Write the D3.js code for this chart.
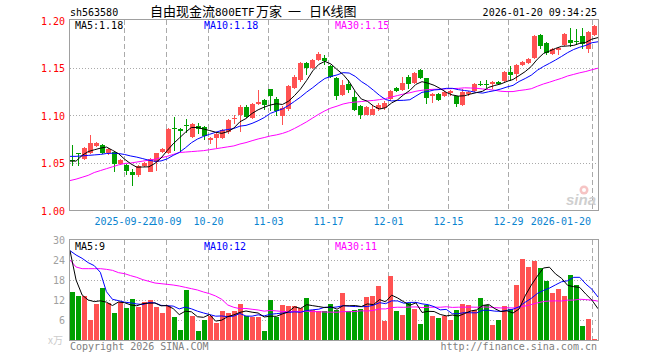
<!DOCTYPE html>
<html>
<head>
<meta charset="utf-8">
<title>自由现金流800ETF万家 日K线图</title>
<script src="https://d3js.org/d3.v7.min.js"></script>
<style>
  body { margin: 0; background: #fff; }
  text { font-family: "DejaVu Sans Mono", monospace; font-size: 10px; }
</style>
</head>
<body>
<div id="chart"></div>
<script>
// daily bars, 2025-09-09 .. 2026-01-20
const opens  = [1.0535,1.061,1.054,1.060,1.068,1.069,1.060,1.062,1.049,1.048,
                1.040,1.037,1.047,1.041,1.051,1.062,1.060,1.087,1.086,1.0905,
                1.077,1.089,1.088,1.074,1.076,1.076,1.083,1.096,1.100,1.109,
                1.097,1.112,1.116,1.128,1.117,1.099,1.107,1.129,1.137,1.155,
                1.150,1.158,1.161,1.152,1.140,1.122,1.133,1.119,1.110,1.101,
                1.101,1.107,1.108,1.117,1.129,1.127,1.141,1.134,1.148,1.139,
                1.121,1.123,1.120,1.124,1.120,1.111,1.123,1.1257,1.1335,1.133,
                1.133,1.1355,1.136,1.146,1.144,1.153,1.155,1.161,1.185,1.176,
                1.165,1.169,1.174,1.1795,1.178,1.184,1.170,1.185];
const highs  = [1.069,1.061,1.067,1.079,1.072,1.070,1.066,1.063,1.054,1.049,
                1.044,1.048,1.051,1.055,1.061,1.066,1.087,1.098,1.087,1.096,
                1.092,1.092,1.089,1.077,1.082,1.086,1.096,1.101,1.111,1.111,
                1.113,1.127,1.117,1.128,1.119,1.110,1.132,1.143,1.156,1.156,
                1.159,1.167,1.164,1.153,1.141,1.137,1.137,1.126,1.111,1.110,
                1.111,1.113,1.115,1.127,1.130,1.141,1.143,1.146,1.149,1.140,
                1.124,1.124,1.126,1.127,1.121,1.128,1.126,1.134,1.136,1.137,
                1.136,1.136,1.147,1.152,1.154,1.157,1.161,1.185,1.186,1.177,
                1.171,1.172,1.187,1.192,1.191,1.192,1.189,1.195];
const lows   = [1.047,1.047,1.053,1.059,1.067,1.059,1.058,1.040,1.048,1.037,
                1.026,1.035,1.046,1.040,1.042,1.061,1.059,1.063,1.062,1.082,
                1.076,1.080,1.074,1.070,1.066,1.075,1.081,1.091,1.083,1.097,
                1.096,1.111,1.106,1.105,1.099,1.090,1.105,1.128,1.135,1.143,
                1.149,1.157,1.153,1.140,1.116,1.120,1.124,1.105,1.096,1.100,
                1.100,1.105,1.106,1.115,1.125,1.126,1.128,1.133,1.138,1.112,
                1.113,1.115,1.119,1.121,1.109,1.110,1.121,1.125,1.131,1.129,
                1.128,1.132,1.135,1.136,1.136,1.152,1.154,1.160,1.170,1.164,
                1.164,1.164,1.173,1.172,1.174,1.170,1.166,1.184];
const closes = [1.0525,1.059,1.066,1.071,1.071,1.061,1.065,1.049,1.053,1.042,
                1.037,1.047,1.050,1.054,1.060,1.065,1.086,1.086,1.084,1.090,
                1.091,1.086,1.078,1.076,1.081,1.085,1.095,1.097,1.109,1.098,
                1.112,1.114,1.111,1.120,1.105,1.108,1.131,1.141,1.155,1.150,
                1.158,1.165,1.157,1.141,1.121,1.132,1.127,1.106,1.101,1.109,
                1.107,1.111,1.113,1.126,1.126,1.134,1.133,1.145,1.140,1.118,
                1.123,1.116,1.125,1.126,1.112,1.125,1.125,1.1327,1.133,1.1325,
                1.135,1.133,1.146,1.143,1.153,1.156,1.160,1.184,1.173,1.166,
                1.170,1.171,1.186,1.176,1.177,1.175,1.188,1.194];
// volume, 万手
const volumes = [14.4,13.2,13.2,6.0,10.8,15.6,11.2,8.1,11.4,9.6,
                 12.3,9.9,11.4,12.0,9.9,8.1,10.2,6.9,3.0,15.0,
                 7.2,2.8,6.0,7.2,5.1,8.7,8.1,8.7,10.8,7.2,
                 6.9,6.9,2.7,12.0,7.0,10.5,10.1,10.2,9.6,12.6,
                 9.0,8.7,8.7,10.8,9.0,14.2,8.7,9.0,9.3,12.9,
                 13.2,16.2,5.7,19.2,8.7,7.5,11.0,9.3,4.8,10.4,
                 7.2,6.6,7.2,6.0,9.0,10.8,10.4,9.0,12.6,10.5,
                 4.5,6.0,10.2,9.3,16.5,24.3,21.9,23.7,21.6,17.7,
                 14.2,15.3,13.2,19.6,16.5,4.2,6.3,0.3];

// moving-average values before a full window exists
const ma5Head  = [1.052,1.052,1.058,1.062];
const ma10Head = [1.057,1.057,1.0575,1.058,1.0585,1.059,1.060,1.0603,1.060];
const ma30Head = [1.0315,1.033,1.035,1.037,1.040,1.042,1.044,1.046,1.048,1.0495,
                  1.050,1.051,1.052,1.053,1.054,1.0555,1.057,1.059,1.061,1.0615,
                  1.062,1.0625,1.063,1.064,1.065,1.066,1.067,1.068,1.070];
const vma5Head  = [26.8,18.0,13.5,12.0];
const vma10Head = [26.8,25.5,24.5,23.2,22.3,20.3,14.5,12.2,11.8];
const vma30Head = [24.0,21.9,21.4,21.4,21.4,21.4,21.2,20.9,20.2,19.9,
                   19.3,18.8,18.1,17.6,17.1,16.9,16.7,16.5,16.2,15.8,
                   15.4,15.0,14.4,13.9,13.2,12.2,10.5,9.8,9.4];

const tickIdx    = [9,16,23,33,43,53,63,73,87];
const tickLabels = ["2025-09-22","10-09","10-20","11-03","11-17","12-01","12-15","12-29","2026-01-20"];
const priceTicks = [1.00,1.05,1.10,1.15,1.20];
const volTicks   = [6,12,18,24,30];

const W = 660, H = 360;
const L = 70, R = 598;
const pTop = 20, pBot = 211, vTop = 240, vBot = 340;
const RED = "#ff5252", GREEN = "#00a000", GRID = "#aaaaaa", BORDER = "#a0a0a0";

const n = closes.length;
const bars = d3.range(n).map(i => ({ i, o: opens[i], h: highs[i], l: lows[i], c: closes[i], v: volumes[i] }));

function movingAvg(vals, k, head) {
  return vals.map((v, i) => i < k - 1 ? head[i] : d3.mean(vals.slice(i - k + 1, i + 1)));
}
const ma5 = movingAvg(closes, 5, ma5Head), ma10 = movingAvg(closes, 10, ma10Head), ma30 = movingAvg(closes, 30, ma30Head);
const vma5 = movingAvg(volumes, 5, vma5Head), vma10 = movingAvg(volumes, 10, vma10Head), vma30 = movingAvg(volumes, 30, vma30Head);

const svg = d3.select("#chart").append("svg").attr("width", W).attr("height", H);

const x = d3.scaleBand().domain(d3.range(n)).range([L, R - (R - L) % n]).padding(0);
const xl = d3.scaleLinear().domain([0, n - 1]).range([L, R]);
const yp = d3.scaleLinear().domain([1.00, 1.20]).range([pBot - 0.5, pTop + 0.5]);
const yv = d3.scaleLinear().domain([0, 30]).range([vBot, vTop]);

const colorOf = d => d.c >= d.o ? RED : GREEN;

// grids
function grids(top, bot, yScale, vals) {
  const g = svg.append("g").attr("shape-rendering", "crispEdges");
  g.selectAll("line.h").data(vals).enter().append("line")
    .attr("x1", L).attr("x2", R)
    .attr("y1", d => Math.round(yScale(d)) + 0.5).attr("y2", d => Math.round(yScale(d)) + 0.5)
    .attr("stroke", GRID).attr("stroke-dasharray", "1,2");
  g.selectAll("line.v").data(tickIdx).enter().append("line")
    .attr("x1", d => x(d) + 0.5).attr("x2", d => x(d) + 0.5)
    .attr("y1", top).attr("y2", bot)
    .attr("stroke", GRID).attr("stroke-dasharray", "5,3");
}
grids(pTop, pBot, yp, [1.05, 1.10, 1.15]);
grids(vTop, vBot, yv, [6, 12, 18, 24]);

// sina watermark
const wm = svg.append("g");
wm.append("circle").attr("cx", 584).attr("cy", 190).attr("r", 4.5).attr("fill", "#f6c4c4");
wm.append("circle").attr("cx", 584).attr("cy", 190).attr("r", 2).attr("fill", "#fff");
wm.append("text").attr("x", 566).attr("y", 205)
  .style("font-family", "Liberation Sans, Arial, sans-serif").style("font-size", "15px")
  .style("font-style", "italic").style("font-weight", "bold").attr("fill", "#cfcfcf").text("sina");

// candles
const cg = svg.append("g").attr("shape-rendering", "crispEdges");
cg.selectAll("rect.wick").data(bars).enter().append("rect")
  .attr("x", d => x(d.i) + 2).attr("width", 1)
  .attr("y", d => Math.round(yp(d.h)))
  .attr("height", d => Math.max(1, Math.round(yp(d.l)) - Math.round(yp(d.h))))
  .attr("fill", colorOf);
cg.selectAll("rect.body").data(bars).enter().append("rect")
  .attr("x", d => x(d.i)).attr("width", x.bandwidth() - 1)
  .attr("y", d => Math.round(yp(Math.max(d.o, d.c))))
  .attr("height", d => Math.max(1, Math.round(yp(Math.min(d.o, d.c))) - Math.round(yp(Math.max(d.o, d.c)))))
  .attr("fill", colorOf);

// volume bars
cg.selectAll("rect.vol").data(bars).enter().append("rect")
  .attr("x", d => x(d.i)).attr("width", x.bandwidth() - 1)
  .attr("y", d => Math.round(yv(d.v)))
  .attr("height", d => vBot - Math.round(yv(d.v)))
  .attr("fill", colorOf);

// MA lines
function maLine(vals, yScale, color) {
  svg.append("path").datum(vals)
    .attr("fill", "none").attr("stroke", color).attr("stroke-width", 1)
    .attr("d", d3.line().x((d, i) => xl(i)).y(d => yScale(d)));
}
maLine(ma30, yp, "#ff00ff"); maLine(ma10, yp, "#0000ff"); maLine(ma5, yp, "#000000");
maLine(vma30, yv, "#ff00ff"); maLine(vma10, yv, "#0000ff"); maLine(vma5, yv, "#000000");

// frames
svg.append("rect").attr("x", L - 0.5).attr("y", pTop - 0.5).attr("width", R - L + 1).attr("height", pBot - pTop)
  .attr("fill", "none").attr("stroke", BORDER).attr("shape-rendering", "crispEdges");
svg.append("rect").attr("x", L - 0.5).attr("y", vTop - 0.5).attr("width", R - L + 1).attr("height", vBot - vTop + 0.5)
  .attr("fill", "none").attr("stroke", BORDER).attr("shape-rendering", "crispEdges");

// axis labels
svg.selectAll("text.pt").data(priceTicks).enter().append("text")
  .attr("x", 65).attr("y", d => yp(d) + 4).attr("text-anchor", "end")
  .attr("fill", "#ff0000").text(d => d.toFixed(2));
svg.selectAll("text.vt").data(volTicks).enter().append("text")
  .attr("x", 65).attr("y", d => yv(d) + 4).attr("text-anchor", "end")
  .attr("fill", "#a0a0a0").text(d => d);
svg.append("text").attr("x", 63).attr("y", 344).attr("text-anchor", "end")
  .attr("fill", "#cccccc").style("font-family", "Noto Sans CJK SC").style("font-size", "10px").text("x万");

svg.selectAll("text.dt").data(tickIdx).enter().append("text")
  .attr("x", (d, k) => k === tickIdx.length - 1 ? x(d) - 1 : x(d) + 0.5)
  .attr("y", 225)
  .attr("text-anchor", (d, k) => k === tickIdx.length - 1 ? "end" : "middle")
  .attr("fill", "#0a84d0").text((d, k) => tickLabels[k]);

// header
svg.append("text").attr("x", 70).attr("y", 16).attr("fill", "#000").text("sh563580");
const title = svg.append("text").attr("y", 16).attr("fill", "#000")
  .style("font-family", "Noto Sans CJK SC").style("font-size", "13px");
title.append("tspan").attr("x", 150).text("自由现金流");
title.append("tspan").attr("x", 215).style("font-family", "DejaVu Sans Mono").style("font-size", "11px").text("800ETF");
title.append("tspan").attr("x", 256).text("万家");
title.append("tspan").attr("x", 288).text("一");
title.append("tspan").attr("x", 309).text("日K线图");
svg.append("text").attr("x", 597).attr("y", 16).attr("text-anchor", "end").attr("fill", "#000")
  .text("2026-01-20 09:34:25");

// MA legends
const last = n - 1;
const legends = [
  { x: 75, y: 29, color: "#000000", t: "MA5:" + ma5[last].toFixed(2) },
  { x: 204, y: 29, color: "#0000ff", t: "MA10:" + ma10[last].toFixed(2) },
  { x: 335, y: 29, color: "#ff00ff", t: "MA30:" + ma30[last].toFixed(2) },
  { x: 75, y: 250, color: "#000000", t: "MA5:" + Math.floor(vma5[last]) },
  { x: 204, y: 250, color: "#0000ff", t: "MA10:" + Math.floor(vma10[last]) },
  { x: 335, y: 250, color: "#ff00ff", t: "MA30:" + Math.floor(vma30[last]) }
];
svg.selectAll("text.lg").data(legends).enter().append("text")
  .attr("x", d => d.x).attr("y", d => d.y).attr("fill", d => d.color).text(d => d.t);

// footer
svg.append("text").attr("x", 70).attr("y", 350).attr("fill", "#808080").text("Copyright 2026 SINA.COM");
svg.append("text").attr("x", 597).attr("y", 350).attr("text-anchor", "end").attr("fill", "#808080")
  .text("http://finance.sina.com.cn");
</script>
</body>
</html>
